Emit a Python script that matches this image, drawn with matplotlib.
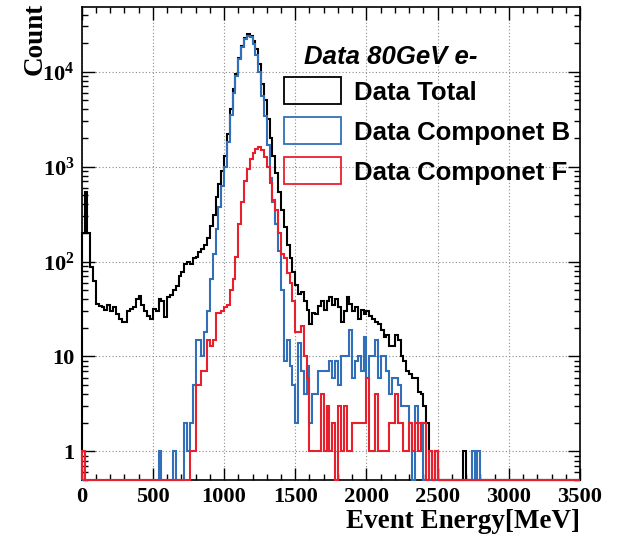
import numpy as np
import matplotlib
matplotlib.use("Agg")
import matplotlib.pyplot as plt
from matplotlib.patches import Rectangle
from matplotlib.ticker import MultipleLocator, LogLocator, FixedLocator, NullFormatter

# ---------------- data (20 MeV bins, 0 - 3500 MeV) ----------------
bin_edges = np.linspace(0, 3500, 176)

total_counts = [
    200, 540, 200, 88, 62, 36, 34, 33, 31, 35,                 # 0-200
    30, 33, 28, 25, 23, 23, 30, 32, 33, 40,                    # 200-400
    43, 35, 30, 27, 25, 32, 30, 40, 38, 26,                    # 400-600
    42, 44, 50, 55, 70, 78, 95, 100, 95, 110,                  # 600-800
    112, 125, 134, 150, 175, 235, 310, 480, 650, 900,          # 800-1000
    1300, 2200, 4000, 6500, 9500, 14000, 18500, 22500, 25000, 24000,  # 1000-1200
    21000, 17500, 12000, 7500, 5000, 3200, 2000, 1300, 850, 540,     # 1200-1400
    350, 230, 150, 108, 78, 56, 45, 48, 38, 31,                # 1400-1600
    22, 29, 28, 34, 38, 31, 38, 42, 35, 40,                    # 1600-1800
    33, 23, 30, 42, 36, 30, 33, 25, 31, 28,                    # 1800-2000
    30, 27, 25, 23, 22, 19, 16, 17, 13, 13,                    # 2000-2200
    17, 15, 10, 9, 7, 6.5, 6, 6, 4.2, 4,                       # 2200-2400
    3, 2, 1, 0, 1, 0, 0, 0, 0, 0,                              # 2400-2600
    0, 0, 0, 0, 1, 0, 0, 0, 0, 0,                              # 2600-2800
    0, 0, 0, 0, 0, 0, 0, 0, 0, 0,                              # 2800-3000
    0, 0, 0, 0, 0, 0, 0, 0, 0, 0,                              # 3000-3200
    0, 0, 0, 0, 0, 0, 0, 0, 0, 0,                              # 3200-3400
    0, 0, 0, 0, 0,                                             # 3400-3500
]

compB_counts = [
    0, 0, 0, 0, 0, 0, 0, 0, 0, 0,
    0, 0, 0, 0, 0, 0, 0, 0, 0, 0,
    0, 0, 0, 0, 0, 0, 0, 1, 0, 0,
    0, 0, 1, 0, 0, 0, 2, 1, 2, 5,
    15, 15, 10, 18, 30, 65, 120, 220, 380, 620,
    1000, 1800, 3500, 6000, 9000, 13500, 18000, 22000, 24000, 23000,
    19500, 15000, 10000, 5500, 3400, 1700, 750, 420, 250, 130,
    50, 9, 15, 8, 5, 2, 14, 7, 4, 8,
    2, 4, 4, 7, 7, 7, 7, 9, 6, 9,
    5, 10, 10, 10, 19, 6, 9, 10, 7, 16,
    6, 10, 10, 15, 6, 10, 10, 7, 4, 6,
    6, 5, 3, 3, 3, 2, 0, 3, 2, 2,
    0, 0, 0, 0, 0, 0, 0, 0, 0, 0,
    0, 0, 0, 0, 0, 0, 0, 1, 0, 1,
    0, 0, 0, 0, 0, 0, 0, 0, 0, 0,
    0, 0, 0, 0, 0, 0, 0, 0, 0, 0,
    0, 0, 0, 0, 0, 0, 0, 0, 0, 0,
    0, 0, 0, 0, 0,
]

compF_counts = [
    1, 0, 0, 0, 0, 0, 0, 0, 0, 0,
    0, 0, 0, 0, 0, 0, 0, 0, 0, 0,
    0, 0, 0, 0, 0, 0, 0, 0, 0, 0,
    0, 0, 0, 0, 0, 0, 0, 0, 1, 1,
    5, 5, 7, 7, 15, 13, 15, 29, 29, 30,
    33, 35, 50, 65, 113, 250, 420, 700, 950, 1200,
    1400, 1550, 1600, 1500, 1250, 1000, 680, 450, 350, 200,
    120, 110, 76, 60, 38, 18, 18, 21, 10, 6,
    1, 1, 1, 1, 4, 1, 3, 1, 2, 0,
    3, 1, 3, 1, 1, 2, 2, 2, 2, 2,
    6, 1, 1, 4, 1, 1, 1, 1, 2, 2,
    4, 2, 2, 1, 1, 2, 1, 2, 1, 2,
    2, 0, 1, 0, 1, 0, 0, 0, 0, 0,
    0, 0, 0, 0, 0, 0, 0, 0, 0, 0,
    0, 0, 0, 0, 0, 0, 0, 0, 0, 0,
    0, 0, 0, 0, 0, 0, 0, 0, 0, 0,
    0, 0, 0, 0, 0, 0, 0, 0, 0, 0,
    0, 0, 0, 0, 0,
]

series_labels = ["Data Total", "Data Componet B", "Data Componet F"]
series_colors = ["#000000", "#3170b8", "#e8202e"]
header_text = "Data 80GeV e-"

x_ticks = [0, 500, 1000, 1500, 2000, 2500, 3000, 3500]
y_ticks = [1, 10, 100, 1000, 10000]
y_tick_labels = ["1", "10", r"$\mathbf{10^{2}}$", r"$\mathbf{10^{3}}$", r"$\mathbf{10^{4}}$"]

# ---------------- style ----------------
plt.rcParams["mathtext.fontset"] = "custom"
plt.rcParams["mathtext.rm"] = "Liberation Serif:bold"
plt.rcParams["mathtext.bf"] = "Liberation Serif:bold"
plt.rcParams["mathtext.it"] = "Liberation Serif:bold:italic"

W, H = 628, 539
fig = plt.figure(figsize=(W / 100, H / 100), dpi=100)
fig.patch.set_facecolor("white")

ax_l, ax_r, ax_t, ax_b = 81.7, 580, 7, 480
ax = fig.add_axes([ax_l / W, 1 - ax_b / H, (ax_r - ax_l) / W, (ax_b - ax_t) / H])
ax.set_yscale("log")
ymin, ymax = 0.5, 4.8e4
ax.set_xlim(0, 3500)
ax.set_ylim(ymin, ymax)

for vals, col in zip([total_counts, compB_counts, compF_counts], series_colors):
    v = np.maximum(np.asarray(vals, dtype=float), ymin)
    ax.stairs(v, bin_edges, baseline=ymin, color=col, lw=1.5, zorder=3, clip_on=False)

# ticks
ax.xaxis.set_major_locator(FixedLocator(x_ticks))
ax.xaxis.set_minor_locator(MultipleLocator(100))
ax.set_xticklabels([str(t) for t in x_ticks])
ax.yaxis.set_major_locator(FixedLocator(y_ticks))
ax.set_yticklabels(y_tick_labels)
ax.yaxis.set_minor_locator(LogLocator(base=10, subs=np.arange(2, 10), numticks=20))
ax.yaxis.set_minor_formatter(NullFormatter())

ax.tick_params(which="both", direction="in", top=True, right=True, width=1.0, color="black")
ax.tick_params(which="major", length=9)
ax.tick_params(which="minor", length=4.5)
ax.tick_params(axis="x", which="major", pad=5)
ax.tick_params(axis="y", which="major", pad=5)
for lab in ax.get_xticklabels() + ax.get_yticklabels():
    lab.set_fontfamily("Liberation Serif")
    lab.set_fontweight("bold")
    lab.set_fontsize(16.2)

for sp in ax.spines.values():
    sp.set_linewidth(1.2)

ax.grid(which="major", color="#8a8a8a", linestyle=(0, (1, 2)), linewidth=0.8)
ax.set_axisbelow(True)

# axis titles
fig.text(580 / W, 1 - 528 / H, "Event Energy[MeV]", ha="right", va="baseline",
         family="Liberation Serif", weight="bold", fontsize=19.5)
fig.text(35 / W, 1 - 3 / H, "Count", ha="center", va="top", rotation=90,
         family="Liberation Serif", weight="bold", fontsize=19.5)

# legend (ROOT style, no frame)
fig.text(304 / W, 1 - 64 / H, header_text, ha="left", va="baseline",
         family="Liberation Sans", weight="bold", style="italic", fontsize=18.5)
box_tops = [77, 117, 157]
text_base = [100, 140, 180]
for lbl, col, bt, tb in zip(series_labels, series_colors, box_tops, text_base):
    fig.add_artist(Rectangle((284 / W, 1 - (bt + 27) / H), 57 / W, 27 / H,
                             transform=fig.transFigure, fill=False, edgecolor=col, lw=1.3))
    fig.text(354 / W, 1 - tb / H, lbl, ha="left", va="baseline",
             family="Liberation Sans", weight="bold", fontsize=18.5)

fig.savefig("out.png", dpi=100)
